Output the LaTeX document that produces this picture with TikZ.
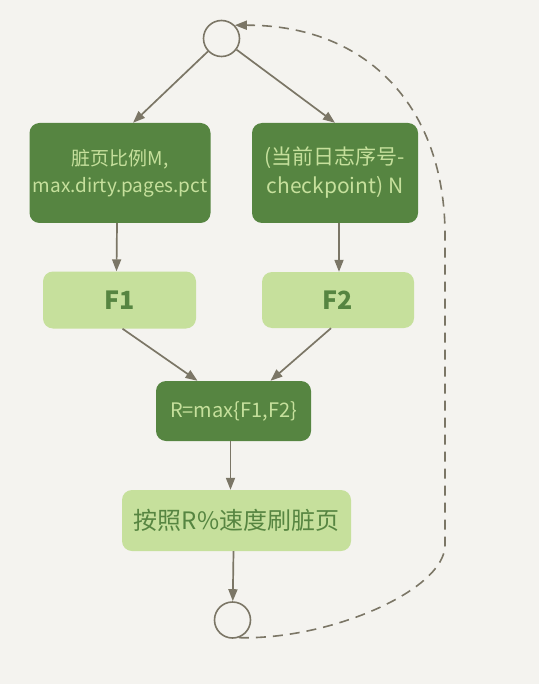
\documentclass[tikz,border=0pt]{standalone}
\usepackage{fontspec}
\setmainfont{Noto Sans CJK SC}
\usetikzlibrary{arrows.meta,positioning}
\definecolor{bgpaper}{RGB}{244,243,239}
\definecolor{darkg}{RGB}{86,133,65}
\definecolor{lightg}{RGB}{198,224,156}
\definecolor{arrgray}{RGB}{123,118,102}

\begin{document}
\begin{tikzpicture}[
  x=1pt,y=-1pt,
  box/.style={rounded corners=10pt,align=center,inner sep=2pt},
  dbox/.style={box,fill=darkg,text=lightg,font=\fontsize{19}{27}\selectfont},
  lbox/.style={box,fill=lightg,text=darkg},
  knot/.style={circle,draw=arrgray,line width=1.6pt,fill=bgpaper,minimum size=36pt,inner sep=0pt},
  arr/.style={-{Triangle[length=12pt,width=9pt]},line width=1.7pt,arrgray},
  loop/.style={-{Triangle[length=12pt,width=9pt]},line width=1.6pt,arrgray,dash pattern=on 10pt off 7pt},
  ]
  \fill[bgpaper] (0,0) rectangle (539,684);
  \useasboundingbox (0,0) rectangle (539,684);
  \node[knot] (top) at (221.5,38.5) {};
  \node[dbox,minimum width=181pt,minimum height=100pt] (ratio) at (120,173) {脏页比例M,\\max.dirty.pages.pct};
  \node[dbox,minimum width=166pt,minimum height=100pt,font=\fontsize{21}{29}\selectfont] (lsn) at (335,173) {(当前日志序号-\\checkpoint) N};
  \node[lbox,minimum width=153pt,minimum height=57pt,font=\fontsize{25}{28}\selectfont\bfseries] (f1) at (119.5,300) {F1};
  \node[lbox,minimum width=152pt,minimum height=56pt,font=\fontsize{25}{28}\selectfont\bfseries] (f2) at (338,300) {F2};
  \node[dbox,minimum width=155pt,minimum height=60pt,font=\fontsize{20}{24}\selectfont] (rmax) at (233.5,411) {R=max\{F1,F2\}};
  \node[lbox,minimum width=229pt,minimum height=61pt,font=\fontsize{24}{28}\selectfont] (flush) at (236.5,520.5) {按照R\%速度刷脏页};
  \node[knot] (bot) at (232.5,620) {};
  \draw[arr] (top) -- ([xshift=13pt]ratio.north);
  \draw[arr] (top) -- (lsn.north);
  \draw[arr] ([xshift=-3pt]ratio.south) -- ([xshift=-3pt]f1.north);
  \draw[arr] ([xshift=4pt]lsn.south) -- ([xshift=1pt]f2.north);
  \draw[arr] ([xshift=3pt]f1.south) -- ([xshift=-36pt]rmax.north);
  \draw[arr] ([xshift=-7pt]f2.south) -- ([xshift=37pt]rmax.north);
  \draw[arr] ([xshift=-3pt]rmax.south) -- ([xshift=-6pt]flush.north);
  \draw[arr] ([xshift=-3pt]flush.south) -- (bot);
  \draw[loop] (bot.-70) .. controls (330,640) and (445,590) .. (445,545)
    -- (445,235) .. controls (445,110) and (370,25) .. (top.45);
\end{tikzpicture}
\end{document}
